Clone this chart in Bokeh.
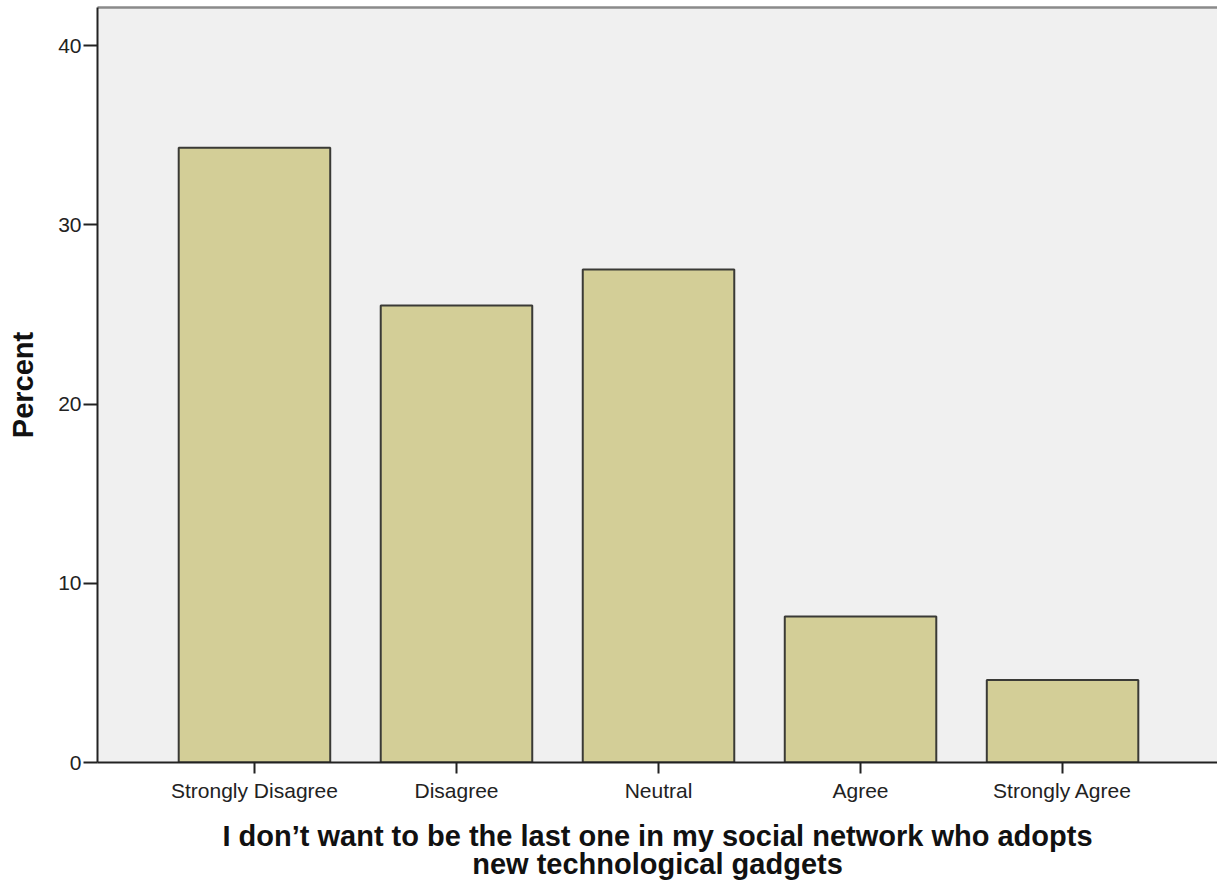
from bokeh.plotting import figure
from bokeh.embed import file_html
from bokeh.resources import INLINE
from bokeh.models import FixedTicker, ColumnDataSource, LinearAxis

categories = ["Strongly Disagree", "Disagree", "Neutral", "Agree", "Strongly Agree"]
percent = [34.3, 25.5, 27.5, 8.15, 4.6]
y_ticks = [0, 10, 20, 30, 40]

xpos = list(range(1, len(categories) + 1))
src = ColumnDataSource(dict(x=xpos, top=percent))

p = figure(width=1217, height=886, output_backend="svg", toolbar_location=None,
           x_range=(0.223, 5.767), y_range=(0, 42.12),
           min_border_left=97, min_border_right=0, min_border_top=7, min_border_bottom=124)

p.background_fill_color = "#f0f0f0"
p.border_fill_color = "white"
p.outline_line_color = None
p.grid.visible = False

p.vbar(x="x", top="top", bottom=0, width=0.75, source=src,
       fill_color="#d3ce97", line_color="#3a3a36", line_width=2)

xa = p.below[0]
ya = p.left[0]
xa.ticker = FixedTicker(ticks=xpos)
xa.major_label_overrides = {x: c for x, c in zip(xpos, categories)}
ya.ticker = FixedTicker(ticks=y_ticks)

top_axis = LinearAxis(ticker=FixedTicker(ticks=[]), axis_line_color="#8a8a8a",
                      axis_line_width=2.5, major_tick_out=0, major_tick_in=0,
                      minor_tick_out=0, minor_tick_in=0, major_label_standoff=0,
                      major_tick_line_color=None, minor_tick_line_color=None)
p.add_layout(top_axis, "above")

for ax in (xa, ya):
    ax.axis_line_color = "#222222"
    ax.axis_line_width = 2
    ax.major_tick_line_color = "#222222"
    ax.major_tick_line_width = 2
    ax.major_tick_in = 0
    ax.minor_tick_line_color = None
    ax.major_label_text_font = "Liberation Sans"
    ax.major_label_text_font_size = "21px"
    ax.major_label_text_color = "#222222"
    ax.axis_label_text_font = "Liberation Sans"
    ax.axis_label_text_font_style = "bold"
    ax.axis_label_text_font_size = "29px"
    ax.axis_label_text_color = "#111111"
    ax.axis_label_text_line_height = 0.9

ya.major_tick_out = 14
ya.major_label_standoff = 2
xa.major_tick_out = 11
xa.major_label_standoff = 5

ya.axis_label = "Percent"
ya.axis_label_standoff = 16
xa.axis_label = "I don\u2019t want to be the last one in my social network who adopts\nnew technological gadgets"
xa.axis_label_standoff = 15

open("out.html", "w").write(file_html(p, INLINE))
